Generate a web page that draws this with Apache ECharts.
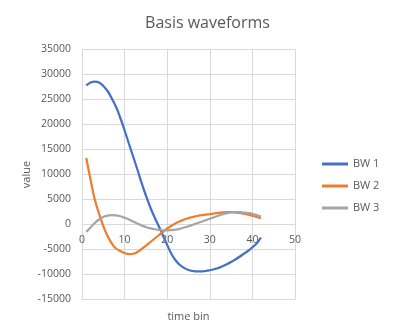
<!DOCTYPE html>
<html>
<head>
<meta charset="utf-8">
<script src="https://cdn.jsdelivr.net/npm/echarts@6/dist/echarts.min.js"></script>
<style>
html,body{margin:0;padding:0;background:#fff;}
#chart{width:415px;height:335px;}
</style>
</head>
<body>
<div id="chart"></div>
<script>
var timeBins = [1,2,3,4,5,6,7,8,9,10,11,12,13,14,15,16,17,18,19,20,21,22,23,24,25,26,27,28,29,30,31,32,33,34,35,36,37,38,39,40,41,42];
var bw1 = [27800,28400,28600,28400,27700,26700,25200,23500,21300,18800,16200,13600,11000,8300,5800,3500,1500,-300,-2200,-4100,-5900,-7200,-8100,-8700,-9100,-9300,-9380,-9380,-9300,-9150,-8950,-8700,-8350,-7950,-7500,-7000,-6450,-5850,-5250,-4550,-3800,-2600];
var bw2 = [13300,9000,5000,2200,-300,-2300,-3800,-4800,-5300,-5700,-5900,-5850,-5500,-4900,-4250,-3550,-2850,-2150,-1450,-800,-250,250,650,1000,1280,1500,1700,1850,1970,2080,2200,2330,2420,2470,2460,2400,2300,2150,1980,1750,1500,1250];
var bw3 = [-1500,-600,300,1000,1500,1780,1870,1830,1650,1350,1000,600,200,-200,-500,-750,-950,-1080,-1150,-1170,-1130,-1030,-850,-600,-350,-50,250,550,850,1150,1450,1750,2050,2280,2430,2470,2460,2400,2300,2150,1900,1600];
var seriesNames = ['BW 1','BW 2','BW 3'];
var seriesColors = ['#4472C4','#ED7D31','#A5A5A5'];
var chartTitle = 'Basis waveforms';
var xName = 'time bin';
var yName = 'value';

function pairs(ys){ return timeBins.map(function(x,i){ return [x, ys[i]]; }); }
var font = 'Open Sans';
var txt = '#595959';
var chart = echarts.init(document.getElementById('chart'), null, {renderer:'canvas'});
chart.setOption({
  animation:false,
  backgroundColor:'#fff',
  title:{text:chartTitle,left:'center',top:10,textStyle:{fontFamily:font,fontSize:16,fontWeight:'normal',color:txt}},
  legend:{orient:'vertical',left:317,top:152,itemWidth:26,itemHeight:3,itemGap:8,icon:'rect',
    textStyle:{fontFamily:font,fontSize:11,color:txt,lineHeight:14},
    data:seriesNames},
  grid:{left:82,right:120,top:49.5,bottom:35.5,containLabel:false},
  xAxis:[{
    type:'value',min:0,max:50,interval:10,position:'bottom',offset:-75,
    axisLine:{show:true,onZero:false,lineStyle:{color:'#D9D9D9',width:1}},
    axisTick:{show:false},
    axisLabel:{fontFamily:font,fontSize:10.5,color:txt,margin:10},
    splitLine:{show:true,lineStyle:{color:'#D9D9D9',width:1}}
  },{
    type:'value',min:0,max:50,position:'bottom',
    axisLine:{show:false,onZero:false},axisTick:{show:false},axisLabel:{show:false},splitLine:{show:false},
    name:xName,nameLocation:'middle',nameGap:12,nameMoveOverlap:false,
    nameTextStyle:{fontFamily:font,fontSize:11,color:txt}
  }],
  yAxis:{
    type:'value',min:-15000,max:35000,interval:5000,
    axisLine:{show:false,onZero:false},axisTick:{show:false},
    axisLabel:{fontFamily:font,fontSize:10.5,color:txt,margin:11,formatter:function(v){return String(v);}},
    splitLine:{show:true,lineStyle:{color:'#D9D9D9',width:1}},
    name:yName,nameLocation:'middle',nameGap:50,nameRotate:90,nameMoveOverlap:false,
    nameTextStyle:{fontFamily:font,fontSize:11,color:txt}
  },
  series:[bw1,bw2,bw3].map(function(d,i){
    return {name:seriesNames[i],type:'line',xAxisIndex:0,data:pairs(d),smooth:true,symbol:'none',
      color:seriesColors[i],lineStyle:{color:seriesColors[i],width:2.25}};
  })
});
</script>
</body>
</html>
